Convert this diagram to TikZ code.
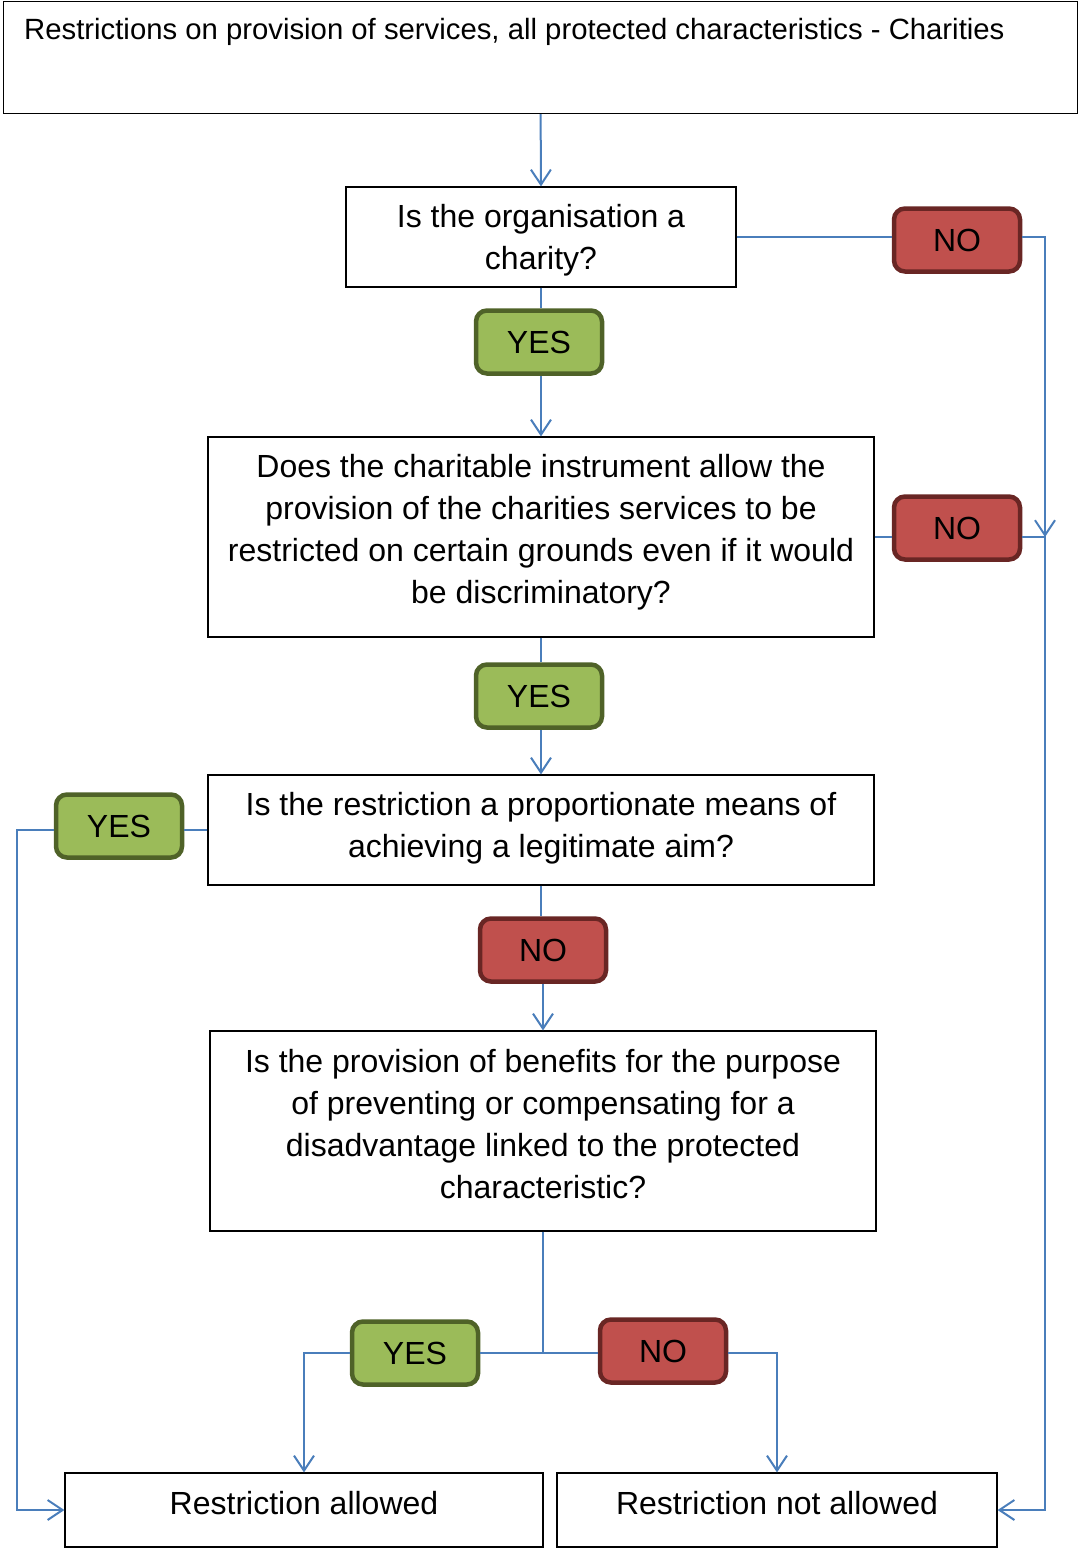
\documentclass[tikz,border=0pt]{standalone}
\usepackage{fontspec}
\setmainfont{Liberation Sans}
\usetikzlibrary{arrows.meta}
\definecolor{linkblue}{HTML}{4A7EBB}
\definecolor{yesfill}{HTML}{9BBB59}
\definecolor{yesline}{HTML}{4F6228}
\definecolor{nofill}{HTML}{C0504D}
\definecolor{noline}{HTML}{692624}
\tikzset{
  question/.style={draw=black, line width=1.2pt, align=center, inner sep=0pt,
    font=\fontsize{32}{42}\selectfont},
  badge/.style={rounded corners=11pt, line width=4.5pt, inner sep=0pt,
    minimum width=126pt, minimum height=63pt, font=\fontsize{32}{38}\selectfont},
  yesbadge/.style={badge, draw=yesline, fill=yesfill},
  nobadge/.style={badge, draw=noline, fill=nofill},
  link/.style={draw=linkblue, line width=2pt},
  arr/.style={link, -{Straight Barb[length=15pt,width=20pt]}}
}
\begin{document}
\begin{tikzpicture}[x=1pt, y=-1pt]
  \useasboundingbox (0,0) rectangle (1078,1548);
  % heading box
  \node (title) [draw=black, line width=1.2pt, anchor=north west, minimum width=1074pt, minimum height=112pt] at (3,1) {};
  \node (titletext) [anchor=base west, inner sep=0pt, font=\fontsize{29.3}{35}\selectfont] at (24,39) {Restrictions on provision of services, all protected characteristics - Charities};
  % questions
  \node (q1) [question, text depth=0.7pt, minimum width=390pt, minimum height=100pt] at (541,237) {Is the organisation a\\charity?};
  \node (q2) [question, text depth=17pt, minimum width=666pt, minimum height=200pt] at (541,537) {Does the charitable instrument allow the\\provision of the charities services to be\\restricted on certain grounds even if it would\\be discriminatory?};
  \node (q3) [question, text depth=9.7pt, minimum width=666pt, minimum height=110pt] at (541,830) {Is the restriction a proportionate means of\\achieving a legitimate aim?};
  \node (q4) [question, text depth=14pt, minimum width=666pt, minimum height=200pt] at (543,1131) {Is the provision of benefits for the purpose\\of preventing or compensating for a\\disadvantage linked to the protected\\characteristic?};
  % outcomes
  \node (allowed) [question, text height=23pt, text depth=14pt, minimum width=478pt, minimum height=74pt] at (304,1510) {Restriction allowed};
  \node (notallowed) [question, text height=23pt, text depth=14pt, minimum width=440pt, minimum height=74pt] at (777,1510) {Restriction not allowed};
  % answers
  \node (yes1) [yesbadge] at (539,342) {YES};
  \node (no1) [nobadge] at (957,240) {NO};
  \node (no2) [nobadge] at (957,528) {NO};
  \node (yes2) [yesbadge] at (539,696) {YES};
  \node (yes3) [yesbadge] at (119,826) {YES};
  \node (no3) [nobadge] at (543,950) {NO};
  \node (yes4) [yesbadge] at (415,1353) {YES};
  \node (no4) [nobadge] at (663,1351) {NO};
  \coordinate (rightrail) at (1045,537);
  \coordinate (leftrail) at (17,830);
  \coordinate (split) at (543,1353);
  % connectors
  \draw[arr] (title.south) -- (q1.north);
  \draw[link] (q1.south) -- (q1.south |- yes1.north);
  \draw[arr] (q1.south |- yes1.south) -- (q2.north);
  \draw[link] (q1.east) -- (q1.east -| no1.west);
  \draw[arr] (q1.east -| no1.east) -| (rightrail);
  \draw[link] (q2.east) -- (q2.east -| no2.west);
  \draw[arr] (q2.east -| no2.east) -- (rightrail) |- (notallowed.east);
  \draw[link] (q2.south) -- (q2.south |- yes2.north);
  \draw[arr] (q2.south |- yes2.south) -- (q3.north);
  \draw[link] (q3.west) -- (q3.west -| yes3.east);
  \draw[arr] (q3.west -| yes3.west) -- (leftrail) |- (allowed.west);
  \draw[link] (q3.south) -- (q3.south |- no3.north);
  \draw[arr] (q4.north |- no3.south) -- (q4.north);
  \draw[link] (q4.south) -- (split);
  \draw[link] (split) -- (split -| yes4.east);
  \draw[arr] (split -| yes4.west) -| (allowed.north);
  \draw[link] (split) -- (split -| no4.west);
  \draw[arr] (split -| no4.east) -| (notallowed.north);
\end{tikzpicture}
\end{document}
